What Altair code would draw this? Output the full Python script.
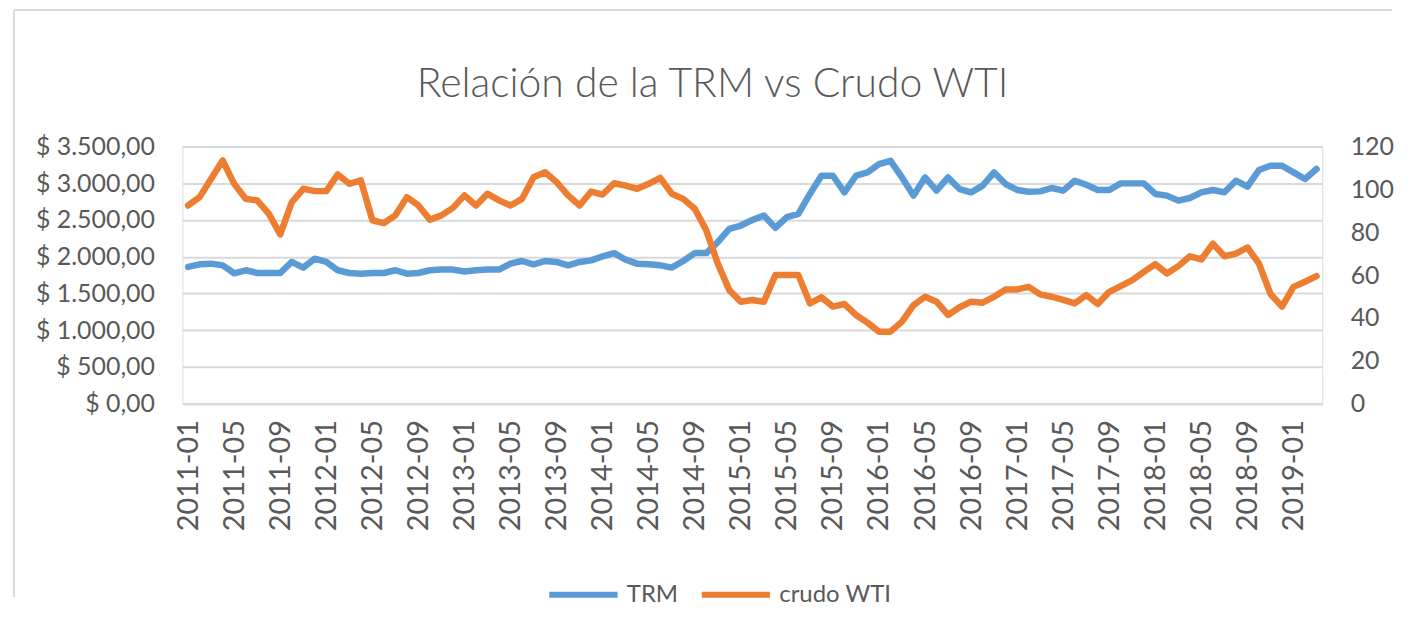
import altair as alt
import pandas as pd

# Categories: monthly labels 2011-01 .. 2019-03
years = [2011, 2012, 2013, 2014, 2015, 2016, 2017, 2018, 2019]
month_nums = ["01", "02", "03", "04", "05", "06", "07", "08", "09", "10", "11", "12"]
months = [f"{y}-{m}" for y in years for m in month_nums][:99]
tick_labels = months[::4]

trm = [1861, 1897, 1906, 1883, 1775, 1816, 1779, 1779, 1779, 1929,
       1852, 1974, 1929, 1816, 1779, 1770, 1779, 1779, 1816, 1770,
       1779, 1816, 1825, 1825, 1800, 1816, 1825, 1825, 1906, 1942,
       1897, 1942, 1929, 1883, 1929, 1951, 2005, 2050, 1960, 1906,
       1897, 1883, 1852, 1942, 2050, 2050, 2200, 2380, 2425, 2500,
       2561, 2394, 2538, 2584, 2855, 3103, 3103, 2877, 3103, 3148,
       3261, 3306, 3080, 2832, 3080, 2900, 3080, 2922, 2877, 2968,
       3148, 2990, 2909, 2886, 2890, 2936, 2900, 3035, 2981, 2909,
       2909, 2999, 2999, 2999, 2855, 2832, 2764, 2800, 2877, 2909,
       2877, 3035, 2954, 3180, 3238, 3238, 3148, 3058, 3194]

wti = [92.5, 96.4, 105.0, 113.5, 102.6, 95.6, 94.9, 88.7, 79.0, 94.0,
       100.3, 99.2, 99.2, 107.0, 102.6, 104.2, 85.6, 84.3, 87.9, 96.4,
       92.5, 85.9, 87.9, 91.4, 97.2, 92.5, 98.0, 94.9, 92.5, 95.6,
       105.7, 108.0, 103.4, 97.2, 92.5, 99.0, 97.6, 102.9, 101.8, 100.3,
       102.6, 105.4, 98.0, 95.6, 91.0, 80.9, 65.4, 53.0, 47.6, 48.4,
       47.6, 60.0, 60.0, 60.0, 46.8, 49.6, 45.3, 46.5, 41.4, 37.8,
       33.6, 33.6, 38.3, 46.0, 49.9, 47.6, 41.4, 45.0, 47.6, 47.1,
       49.9, 53.3, 53.3, 54.5, 51.0, 49.9, 48.4, 46.8, 50.7, 46.5,
       52.2, 54.9, 57.7, 61.5, 65.1, 60.8, 64.2, 68.8, 67.3, 74.7,
       68.8, 70.0, 72.9, 65.4, 51.2, 45.3, 54.5, 56.9, 59.5]

series_names = ["TRM", "crudo WTI"]
series_colors = ["#5B9BD5", "#ED7D31"]

df = pd.DataFrame({
    "mes": months * 2,
    "serie": [series_names[0]] * len(months) + [series_names[1]] * len(months),
    "valor": trm + wti,
})

FONT = "Lato"
GRAY = "#595959"
GRID = "#d9d9d9"

x_enc = alt.X(
    "mes:O",
    sort=months,
    scale=alt.Scale(type="point", padding=0.5),
    axis=alt.Axis(
        title=None, values=tick_labels, labelAngle=-90, labelAlign="right",
        labelBaseline="middle", labelPadding=16, labelFont=FONT,
        labelFontSize=29, labelColor=GRAY, ticks=False, grid=False,
        domain=True, domainColor=GRID, domainWidth=2, labelOverlap=False,
    ),
)

color_enc = alt.Color(
    "serie:N",
    scale=alt.Scale(domain=series_names, range=series_colors),
    legend=alt.Legend(
        title=None, orient="none", direction="horizontal",
        legendX=365, legendY=412, symbolType="stroke", symbolSize=4700,
        symbolStrokeWidth=6, labelFont=FONT, labelFontSize=24,
        labelColor=GRAY, labelOffset=6, columnPadding=11,
    ),
)

money_expr = ("'$ ' + replace(replace(replace(format(datum.value, ',.2f'), ',', '#'), '.', ','), '#', '.')")

base = alt.Chart(df).encode(x=x_enc, color=color_enc)

trm_line = base.transform_filter(alt.datum.serie == "TRM").mark_line(
    strokeWidth=6.5, strokeCap="round", strokeJoin="round"
).encode(
    y=alt.Y(
        "valor:Q",
        scale=alt.Scale(domain=[0, 3500], nice=False),
        axis=alt.Axis(
            title=None, orient="left", values=list(range(0, 3501, 500)),
            labelExpr=money_expr, grid=True, gridColor=GRID, gridWidth=2,
            domain=False, ticks=False, labelFont=FONT, labelFontSize=25,
            labelColor=GRAY, labelPadding=28,
        ),
    )
)

wti_line = base.transform_filter(alt.datum.serie == "crudo WTI").mark_line(
    strokeWidth=6.5, strokeCap="round", strokeJoin="round"
).encode(
    y=alt.Y(
        "valor:Q",
        scale=alt.Scale(domain=[0, 120], nice=False),
        axis=alt.Axis(
            title=None, orient="right", values=list(range(0, 121, 20)),
            grid=False, domain=False, ticks=False, labelFont=FONT,
            labelFontSize=25, labelColor=GRAY, labelPadding=28,
            labelAlign="left",
        ),
    )
)

frame_data = alt.Data(values=[{"k": 1}])
border_top = alt.Chart(frame_data).mark_rule(stroke=GRID, strokeWidth=2).encode(
    x=alt.value(-169), x2=alt.value(1214), y=alt.value(-137)
)
border_left = alt.Chart(frame_data).mark_rule(stroke=GRID, strokeWidth=2).encode(
    x=alt.value(-169), y=alt.value(-137), y2=alt.value(452)
)

chart = alt.layer(border_top, border_left, trm_line, wti_line).resolve_scale(y="independent").properties(
    width=1144,
    height=258,
    padding={"left": 175, "top": 138, "right": 78, "bottom": 200},
    autosize=alt.AutoSizeParams(type="none"),
    title=alt.Title(
        "Relación de la TRM vs Crudo WTI", font=FONT, fontSize=41,
        fontWeight=300, color=GRAY, anchor="middle", frame="group",
        baseline="alphabetic", offset=-129, dx=-40,
    ),
).configure_view(stroke=None).configure(background="white")

chart.save("out.html", embed_options={"renderer": "svg", "actions": False})
